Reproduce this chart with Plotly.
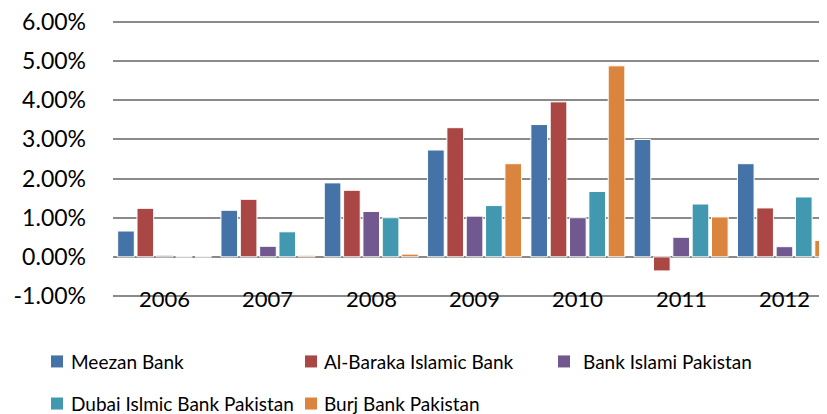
import plotly.graph_objects as go

years = ["2006", "2007", "2008", "2009", "2010", "2011", "2012"]
series_names = ["Meezan Bank", "Al-Baraka Islamic Bank", "Bank Islami Pakistan",
                "Dubai Islmic Bank Pakistan", "Burj Bank Pakistan"]
colors = ["#4572A7", "#AA4643", "#71588F", "#4198AF", "#DB843D"]

meezan = [0.0066, 0.0119, 0.0189, 0.0273, 0.0338, 0.0300, 0.0238]
al_baraka = [0.0124, 0.0147, 0.0170, 0.0330, 0.0396, -0.0036, 0.0125]
bank_islami = [0.0004, 0.0027, 0.0116, 0.0104, 0.0100, 0.0050, 0.0026]
dubai_islamic = [0.0, 0.0064, 0.0100, 0.0131, 0.0167, 0.0135, 0.0153]
burj = [0.0, 0.0004, 0.0007, 0.0238, 0.0488, 0.0102, 0.0042]

y_ticks = [-0.01, 0.0, 0.01, 0.02, 0.03, 0.04, 0.05, 0.06]
y_tick_labels = ["-1.00%", "0.00%", "1.00%", "2.00%", "3.00%", "4.00%", "5.00%", "6.00%"]

all_series = [meezan, al_baraka, bank_islami, dubai_islamic, burj]

# page body has an 8px margin; compensate so the picture lines up with the window
OFF = 8
W, H = 827 - OFF, 414 - OFF
PX_PER_UNIT = 39.07 / 0.01          # pixels per 1.00%
PAD = 3                              # extra px so the edge gridlines get drawn
plot_left, plot_right = 113, 827
plot_top, plot_bottom = 22.3 - PAD, 295.7 + PAD
L = plot_left - OFF
R = 0
T = plot_top - OFF
B = H - (plot_bottom - OFF)
PW = W - L - R
PH = H - T - B
FONT = "Lato"
pad_val = PAD / PX_PER_UNIT

fig = go.Figure()
x_idx = list(range(len(years)))
for name, vals, col in zip(series_names, all_series, colors):
    fig.add_trace(go.Bar(
        x=x_idx, y=vals, name=name,
        marker=dict(color=col, line=dict(color="white", width=1)),
        showlegend=False,
    ))

cat_px = 103.3
x_end = -0.5 + PW / cat_px

fig.update_layout(
    width=W, height=H,
    margin=dict(l=L, r=R, t=T, b=B, autoexpand=False),
    paper_bgcolor="white", plot_bgcolor="white",
    barmode="group", bargap=0.064, bargroupgap=0.14,
    font=dict(family=FONT, color="#000000"),
    xaxis=dict(range=[-0.5, x_end], showticklabels=False, showgrid=False,
               zeroline=False, showline=False, ticks=""),
    yaxis=dict(range=[-0.01 - pad_val, 0.06 + pad_val],
               tickvals=y_ticks, ticktext=y_tick_labels,
               showgrid=True, gridcolor="#8a8a8a", gridwidth=1.5,
               zeroline=True, zerolinecolor="#8a8a8a", zerolinewidth=1.5,
               showline=False, ticks="", ticklabelstandoff=26, automargin=False,
               ticklabeloverflow="allow",
               tickfont=dict(family=FONT, size=23, color="#000000")),
)

# category labels, sitting on the bottom gridline as in the original
for i, yr in enumerate(years):
    fig.add_annotation(x=i, y=-0.01, xref="x", yref="y", text=yr,
                       showarrow=False, yanchor="middle", yshift=-3,
                       font=dict(family=FONT, size=22, color="#000000"))

# legend drawn as squares + text (positions in original window pixels)
def px_to_paper(px, py):
    px -= OFF
    py -= OFF
    return (px - L) / PW, (H - B - py) / PH

legend_pos = [(51, 361), (305, 361), (558, 361), (51, 403), (305, 403)]
text_off = [18, 17, 23, 18, 17]
for (sx, sy), off, name, col in zip(legend_pos, text_off, series_names, colors):
    x0, y0 = px_to_paper(sx, sy + 6)
    x1, y1 = px_to_paper(sx + 12, sy - 6)
    fig.add_shape(type="rect", xref="paper", yref="paper",
                  x0=x0, y0=y0, x1=x1, y1=y1,
                  fillcolor=col, line=dict(width=0))
    tx, ty = px_to_paper(sx + off, sy)
    fig.add_annotation(x=tx, y=ty, xref="paper", yref="paper", text=name,
                       showarrow=False, xanchor="left", yanchor="middle",
                       font=dict(family=FONT, size=19, color="#000000"))

fig.write_html("out.html")
